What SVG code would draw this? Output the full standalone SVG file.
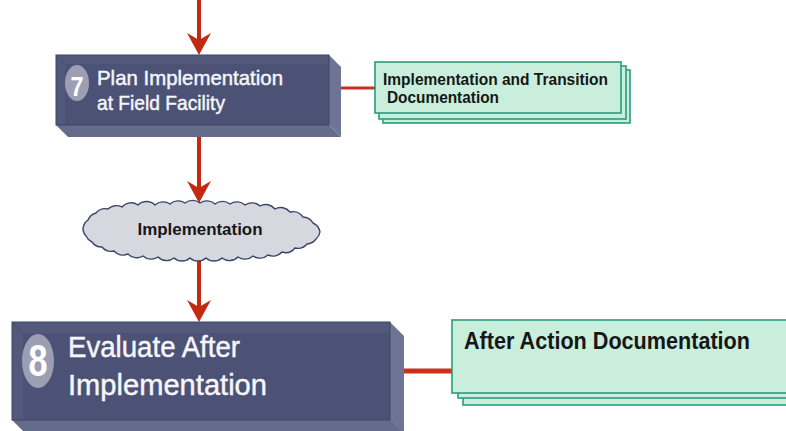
<svg xmlns="http://www.w3.org/2000/svg" width="786" height="431" viewBox="0 0 786 431">
  <style>
    .front { fill: #4b5275; }
    .bevel { fill: #52597b; }
    .side { fill: #6e7494; }
    .under { fill: #656b8b; }
    .badge { fill: #9c9fb3; }
    .num { font-family: "Liberation Sans", Arial, sans-serif; font-weight: bold; fill: #ffffff; text-anchor: middle; }
    .title { font-family: "Liberation Sans", Arial, sans-serif; fill: #f6f6fa; stroke: #f6f6fa; stroke-width: 0.45; }
    .doc { fill: #c9eedc; stroke: #2a9c80; stroke-width: 1.6; }
    .doctext { font-family: "Liberation Sans", Arial, sans-serif; font-weight: bold; fill: #161616; }
    .cloud { fill: #d6d7df; stroke: #3b4568; stroke-width: 1.4; }
    .flow { stroke: #c22a12; stroke-width: 4; fill: none; }
    .link { stroke: #c7321a; fill: none; }
    .head { fill: #c22a12; }
  </style>
  <defs>
    <path id="arrowhead" d="M-12,-22 L0,0 L12,-22 L0,-15 Z"/>
  </defs>

  <g id="connectors">
    <line class="flow" x1="199" y1="0" x2="199" y2="42"/>
    <use href="#arrowhead" class="head" x="199" y="55"/>
    <line class="flow" x1="199" y1="137" x2="199" y2="190"/>
    <use href="#arrowhead" class="head" x="199" y="203"/>
    <line class="flow" x1="199" y1="258" x2="199" y2="309"/>
    <use href="#arrowhead" class="head" x="199" y="322"/>
    <line class="link" x1="341" y1="88" x2="375" y2="88" stroke-width="3"/>
    <line class="link" x1="404" y1="371" x2="452" y2="371" stroke-width="5"/>
  </g>

  <!-- step 7 block -->
  <g id="step7">
    <polygon class="side" points="329,55 341,67 341,137 329,125"/>
    <polygon class="under" points="56,125 329,125 341,137 68,137"/>
    <rect class="bevel" x="56" y="55" width="273" height="70"/>
    <polygon class="front" points="65,64 329,64 329,125 65,125"/>
    <line x1="56" y1="55" x2="65" y2="64" stroke="#434a6b" stroke-width="1"/>
    <rect x="56" y="55" width="273" height="70" fill="none" stroke="#3e4564" stroke-width="1"/>
    <ellipse class="badge" cx="77" cy="83" rx="12" ry="18"/>
    <text class="num" x="77" y="96" font-size="27" textLength="13" lengthAdjust="spacingAndGlyphs">7</text>
    <text class="title" x="97" y="85" font-size="21" textLength="186" lengthAdjust="spacingAndGlyphs">Plan Implementation</text>
    <text class="title" x="97" y="110" font-size="21" textLength="128" lengthAdjust="spacingAndGlyphs">at Field Facility</text>
  </g>

  <!-- documents produced by step 7 -->
  <g id="doc7">
    <rect class="doc" x="383" y="70" width="247" height="53"/>
    <rect class="doc" x="379" y="66" width="247" height="53"/>
    <rect class="doc" x="375" y="62" width="246" height="51"/>
    <text class="doctext" x="383" y="85" font-size="16" textLength="225" lengthAdjust="spacingAndGlyphs">Implementation and Transition</text>
    <text class="doctext" x="387" y="103" font-size="16" textLength="112" lengthAdjust="spacingAndGlyphs">Documentation</text>
  </g>

  <!-- implementation event -->
  <g id="implementation">
    <path class="cloud" d="M83,230 A12,12 0 0 1 88,220 A12,12 0 0 1 96,213 A12,12 0 0 1 108,209 A12,12 0 0 1 122,207 A12,12 0 0 1 138,205 A12,12 0 0 1 155,205 A12,12 0 0 1 170,204 A12,12 0 0 1 185,203 A12,12 0 0 1 200,203 A12,12 0 0 1 215,204 A12,12 0 0 1 230,204 A12,12 0 0 1 245,205 A12,12 0 0 1 260,206 A12,12 0 0 1 275,209 A12,12 0 0 1 290,212 A12,12 0 0 1 303,217 A12,12 0 0 1 313,223 A12,12 0 0 1 320,232 A12,12 0 0 1 316,239 A12,12 0 0 1 307,244 A12,12 0 0 1 295,248 A12,12 0 0 1 282,252 A12,12 0 0 1 268,255 A12,12 0 0 1 253,256 A12,12 0 0 1 238,257 A12,12 0 0 1 222,258 A12,12 0 0 1 206,258 A12,12 0 0 1 190,258 A12,12 0 0 1 174,258 A12,12 0 0 1 158,257 A12,12 0 0 1 143,256 A12,12 0 0 1 128,254 A12,12 0 0 1 114,251 A12,12 0 0 1 102,247 A12,12 0 0 1 92,242 A12,12 0 0 1 86,236 A12,12 0 0 1 83,230 Z"/>
    <text class="doctext" x="200" y="235" font-size="16" text-anchor="middle" textLength="125" lengthAdjust="spacingAndGlyphs">Implementation</text>
  </g>

  <!-- step 8 block -->
  <g id="step8">
    <polygon class="side" points="390,322 404,336 404,440 390,426"/>
    <polygon class="under" points="12,420 390,420 404,434 26,434"/>
    <rect class="bevel" x="12" y="322" width="378" height="98"/>
    <polygon class="front" points="23,333 390,333 390,420 23,420"/>
    <line x1="12" y1="322" x2="23" y2="333" stroke="#434a6b" stroke-width="1"/>
    <rect x="12" y="322" width="378" height="98" fill="none" stroke="#3e4564" stroke-width="1"/>
    <ellipse class="badge" cx="38" cy="361" rx="16" ry="27"/>
    <text class="num" x="38" y="376" font-size="44" textLength="19" lengthAdjust="spacingAndGlyphs">8</text>
    <text class="title" x="68" y="357" font-size="30" textLength="172" lengthAdjust="spacingAndGlyphs">Evaluate After</text>
    <text class="title" x="68" y="395" font-size="30" textLength="199" lengthAdjust="spacingAndGlyphs">Implementation</text>
  </g>

  <!-- documents produced by step 8 -->
  <g id="doc8">
    <rect class="doc" x="463" y="331" width="400" height="74"/>
    <rect class="doc" x="458" y="325" width="400" height="73"/>
    <rect class="doc" x="452" y="320" width="400" height="73"/>
    <text class="doctext" x="464" y="349" font-size="23" textLength="286" lengthAdjust="spacingAndGlyphs">After Action Documentation</text>
  </g>
</svg>
